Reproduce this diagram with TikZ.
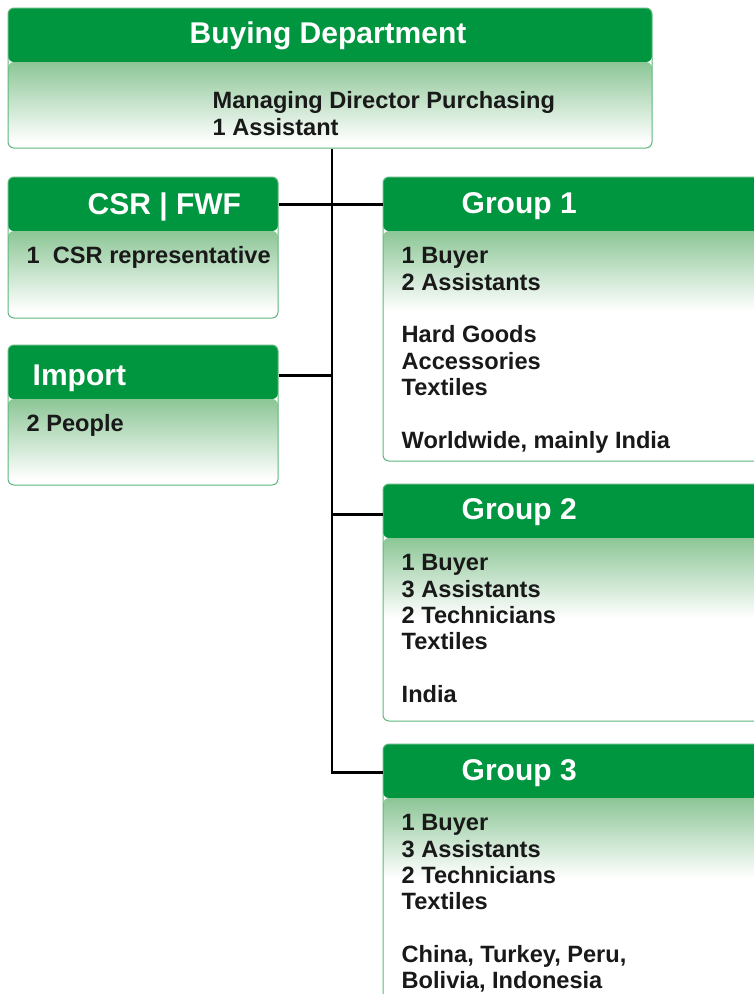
\documentclass[tikz,border=0pt]{standalone}
\usepackage{fontspec}
\setmainfont{Liberation Sans}
\usetikzlibrary{positioning}

\definecolor{headgreen}{RGB}{0,150,64}
\definecolor{bodygreen}{RGB}{140,198,150}
\definecolor{edgegreen}{RGB}{95,182,125}
\definecolor{inkgray}{RGB}{25,25,25}

\tikzset{
  orgbox/.style={draw=edgegreen,line width=1pt,rounded corners=6pt,fill=white,inner sep=0pt,
    path picture={
      \fill[headgreen] (path picture bounding box.north west) rectangle ([yshift=-54pt]path picture bounding box.north east);
      \shade[top color=bodygreen,bottom color=white] ([yshift=-54pt]path picture bounding box.north west) rectangle ([yshift=-134pt]path picture bounding box.north east);
    }},
  boxtitle/.style={anchor=base west,inner sep=0pt,text=white,font=\bfseries\fontsize{30}{30}\selectfont},
  boxlist/.style={anchor=north west,inner sep=0pt,align=left,text=inkgray,font=\bfseries\fontsize{23.6}{26.3}\selectfont},
  link/.style={line width=2.6pt,black}
}

\begin{document}
\begin{tikzpicture}[x=1pt,y=-1pt]
    \useasboundingbox (0,0) rectangle (754,994);
    \clip (0,0) rectangle (754,994);
    \coordinate (trunk) at (332,0);

    % boxes
    \node[orgbox,minimum width=644pt,minimum height=140pt] (dept) at (330,78) {};
    \node[orgbox,minimum width=270pt,minimum height=141pt] (csr) at (143,247.5) {};
    \node[orgbox,minimum width=270pt,minimum height=140pt] (imp) at (143,415) {};
    \node[orgbox,minimum width=387pt,minimum height=284pt] (grpA) at (576.5,319) {};
    \node[orgbox,minimum width=387pt,minimum height=237pt] (grpB) at (576.5,602.5) {};
    \node[orgbox,minimum width=387pt,minimum height=266pt] (grpC) at (576.5,877) {};

    % connectors
    \coordinate (csrJ) at ([yshift=-28pt]csr.north east);
    \coordinate (impJ) at ([yshift=-31pt]imp.north east);
    \coordinate (grpAJ) at ([yshift=-28pt]grpA.north west);
    \coordinate (grpBJ) at ([yshift=-31pt]grpB.north west);
    \coordinate (grpCJ) at ([yshift=-29pt]grpC.north west);
    \draw[link] (dept.south -| trunk) |- (grpCJ);
    \draw[link] (csrJ) -- (grpAJ);
    \draw[link] (impJ) -- (impJ -| trunk);
    \draw[link] (grpBJ -| trunk) -- (grpBJ);

    % titles
    \node[boxtitle] (deptT) at ([shift={(182,36)}]dept.north west) {Buying Department};
    \node[boxtitle] (csrT) at ([shift={(80,38)}]csr.north west) {CSR | FWF};
    \node[boxtitle] (impT) at ([shift={(25,41)}]imp.north west) {Import};
    \node[boxtitle] (grpAT) at ([shift={(79,37)}]grpA.north west) {Group 1};
    \node[boxtitle] (grpBT) at ([shift={(79,36)}]grpB.north west) {Group 2};
    \node[boxtitle] (grpCT) at ([shift={(79,37)}]grpC.north west) {Group 3};

    % lists
    \node[boxlist] (deptL) at ([shift={(205,84)}]dept.north west) {Managing Director Purchasing\\1 Assistant};
    \node[boxlist] (csrL) at ([shift={(19,70)}]csr.north west) {1~~CSR representative};
    \node[boxlist] (impL) at ([shift={(19,70)}]imp.north west) {2 People};
    \node[boxlist] (grpAL) at ([shift={(19,71)}]grpA.north west) {1 Buyer\\2 Assistants\\[26.3pt]Hard Goods\\Accessories\\Textiles\\[26.3pt]Worldwide, mainly India};
    \node[boxlist] (grpBL) at ([shift={(19,71)}]grpB.north west) {1 Buyer\\3 Assistants\\2 Technicians\\Textiles\\[26.3pt]India};
    \node[boxlist] (grpCL) at ([shift={(19,71)}]grpC.north west) {1 Buyer\\3 Assistants\\2 Technicians\\Textiles\\[26.3pt]China, Turkey, Peru,\\Bolivia, Indonesia};
\end{tikzpicture}
\end{document}
